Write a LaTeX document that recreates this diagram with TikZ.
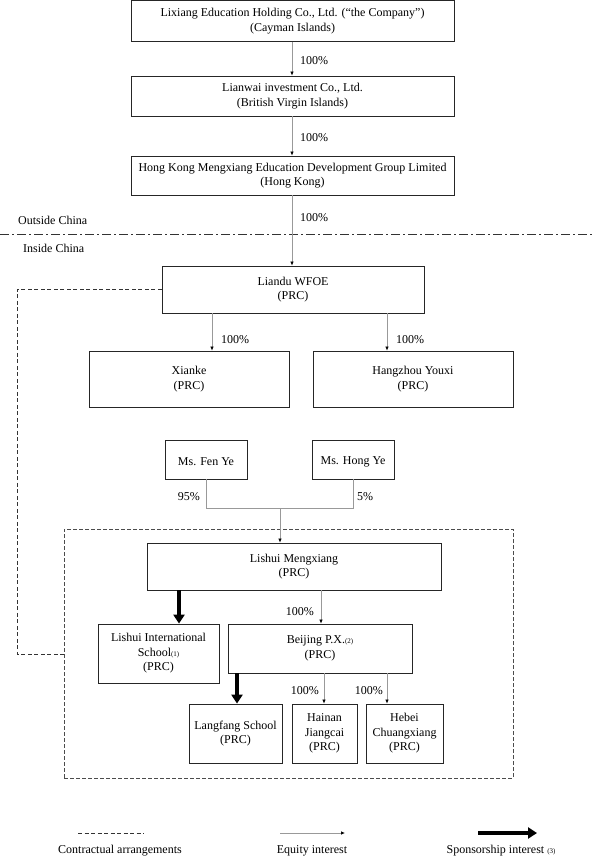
\documentclass[tikz,border=0pt]{standalone}
\usepackage{fontspec}
\setmainfont{Liberation Serif}
\usetikzlibrary{arrows.meta}
\tikzset{
  ent/.style={draw=black!85, line width=0.8pt, align=center, inner sep=0pt,
    font=\fontsize{12}{14.5}\selectfont, execute at begin node={\rule{0pt}{13pt}}},
  lbl/.style={inner sep=0pt, font=\fontsize{12}{14}\selectfont},
  eq/.style={draw=black!40, line width=0.7pt, -{Latex[black,length=4pt,width=3.5pt]}},
  eqline/.style={draw=black!40, line width=0.7pt},
  spon/.style={draw=black, line width=3.2pt, -{Triangle[length=9pt,width=11pt]}},
  contract/.style={draw=black!80, line width=0.9pt, dash pattern=on 4pt off 2.5pt},
  vie/.style={draw=black!70, line width=0.8pt, dash pattern=on 4pt off 2pt},
  border/.style={draw=black!80, line width=0.9pt, dash pattern=on 9pt off 3pt on 2pt off 3pt}
}
\begin{document}
\begin{tikzpicture}[x=1pt,y=-1pt]
\useasboundingbox (0,0) rectangle (593,864);
% boxes
\node[ent, minimum width=323pt, minimum height=40.5pt] (b1) at (292.5,21) {Lixiang Education Holding Co., Ltd. (“the Company”)\\(Cayman Islands)};
\node[ent, minimum width=323pt, minimum height=40pt] (b2) at (292.5,96) {Lianwai investment Co., Ltd.\\(British Virgin Islands)};
\node[ent, minimum width=323pt, minimum height=39pt] (b3) at (292.5,175.5) {Hong Kong Mengxiang Education Development Group Limited\\(Hong Kong)};
\node[ent, minimum width=262pt, minimum height=47pt] (wfoe) at (293,289.5) {Liandu WFOE\\(PRC)};
\node[ent, minimum width=200pt, minimum height=56pt] (xianke) at (189,379) {Xianke\\(PRC)};
\node[ent, minimum width=200pt, minimum height=56pt] (hz) at (413,379) {Hangzhou Youxi\\(PRC)};
\node[ent, minimum width=82pt, minimum height=39pt] (fen) at (206,459.5) {Ms. Fen Ye};
\node[ent, minimum width=82pt, minimum height=39pt] (hong) at (353,459.5) {Ms. Hong Ye};
\node[vie, minimum width=449pt, minimum height=249pt] (viebox) at (288.5,653.5) {};
\node[ent, minimum width=294pt, minimum height=47pt] (lm) at (294,566.5) {Lishui Mengxiang\\(PRC)};
\node[ent, minimum width=121pt, minimum height=59pt] (lsi) at (158.5,653.5) {Lishui International\\School{\fontsize{7}{7}\selectfont(1)}\\(PRC)};
\node[ent, minimum width=184pt, minimum height=49pt] (bj) at (320,648.5) {Beijing P.X.{\fontsize{7}{7}\selectfont(2)}\\(PRC)};
\node[ent, minimum width=93pt, minimum height=59pt] (lf) at (235.5,733.5) {Langfang School\\(PRC)};
\node[ent, minimum width=65pt, minimum height=59pt] (hn) at (324.5,733.5) {Hainan\\Jiangcai\\(PRC)};
\node[ent, minimum width=77pt, minimum height=59pt] (hb) at (404.5,733.5) {Hebei\\Chuangxiang\\(PRC)};
% border line
\coordinate (bl) at (0,234);
\coordinate (br) at (593,234);
\draw[border] (bl) -- (br);
\node[lbl, anchor=west] (outc) at (18,220) {Outside China};
\node[lbl, anchor=west] (inc) at (23,248) {Inside China};
% equity arrows
\draw[eq] (b1.south -| 292,0) -- (b2.north -| 292,0);
\draw[eq] (b2.south -| 292,0) -- (b3.north -| 292,0);
\draw[eq] (b3.south -| 292,0) -- (wfoe.north -| 292,0);
\node[lbl, anchor=west] (p1) at (300,61) {100\%};
\node[lbl, anchor=west] (p2) at (300,138) {100\%};
\node[lbl, anchor=west] (p3) at (300,218) {100\%};
\draw[eq] (wfoe.south -| 212,0) -- (xianke.north -| 212,0);
\draw[eq] (wfoe.south -| 387,0) -- (hz.north -| 387,0);
\node[lbl, anchor=west] (p4) at (221,340) {100\%};
\node[lbl, anchor=west] (p5) at (396,340) {100\%};
\coordinate (jn) at (280,508);
\draw[eqline] (fen.south) -- (fen.south |- jn) -- (hong.south |- jn) -- (hong.south);
\draw[eq] (jn) -- (lm.north -| jn);
\node[lbl, anchor=east] (p95) at (200,497) {95\%};
\node[lbl, anchor=west] (p05) at (357,497) {5\%};
\draw[eq] (lm.south -| 321,0) -- (bj.north -| 321,0);
\node[lbl, anchor=east] (p6) at (314,612) {100\%};
\draw[eq] (bj.south -| 324,0) -- (hn.north -| 324,0);
\draw[eq] (bj.south -| 387,0) -- (hb.north -| 387,0);
\node[lbl, anchor=east] (p7) at (319,691) {100\%};
\node[lbl, anchor=east] (p8) at (383,691) {100\%};
% sponsorship
\draw[spon] (lm.south -| 179,0) -- (lsi.north -| 179,0);
\draw[spon] (bj.south -| 237,0) -- (lf.north -| 237,0);
% contractual
\coordinate (cc) at (17,654);
\draw[contract] (wfoe.west) -| (cc) -- (viebox.west |- cc);
% legend
\coordinate (l1a) at (78,833); \coordinate (l1b) at (144,833);
\coordinate (l2a) at (280,833); \coordinate (l2b) at (345,833);
\coordinate (l3a) at (478,833); \coordinate (l3b) at (537,833);
\draw[contract] (l1a) -- (l1b);
\draw[eq] (l2a) -- (l2b);
\draw[spon] (l3a) -- (l3b);
\node[lbl] (lg1) at (120,851) {Contractual arrangements};
\node[lbl] (lg2) at (312,851) {Equity interest};
\node[lbl] (lg3) at (501,851) {Sponsorship interest {\fontsize{7}{7}\selectfont(3)}};
\end{tikzpicture}
\end{document}
